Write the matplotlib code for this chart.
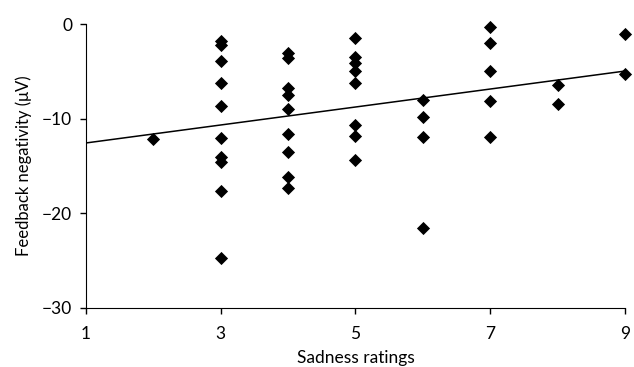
import numpy as np
import matplotlib.pyplot as plt

# Sadness rating and feedback negativity for each participant
sadness = [2,
           3, 3, 3, 3, 3, 3, 3, 3, 3, 3,
           4, 4, 4, 4, 4, 4, 4, 4, 4,
           5, 5, 5, 5, 5, 5, 5, 5,
           6, 6, 6, 6,
           7, 7, 7, 7, 7,
           8, 8,
           9, 9]
negativity = [-12.1,
              -1.8, -2.2, -3.9, -6.2, -8.7, -12.0, -14.0, -14.6, -17.6, -24.7,
              -3.1, -3.6, -6.8, -7.5, -9.0, -11.6, -13.5, -16.2, -17.3,
              -1.5, -3.45, -4.15, -5.0, -6.2, -10.7, -11.8, -14.4,
              -8.0, -9.8, -11.9, -21.5,
              -0.35, -2.0, -5.0, -8.1, -11.9,
              -6.4, -8.4,
              -1.1, -5.3]

x_ticks = [1, 3, 5, 7, 9]
y_ticks = [-30, -20, -10, 0]

plt.rcParams['font.family'] = ['Lato', 'DejaVu Sans']

fig = plt.figure(figsize=(6.34, 3.67), dpi=100)
ax = fig.add_axes([0.1356, 0.1608, 0.85, 0.7738])

x = np.array(sadness, dtype=float)
y = np.array(negativity)
ax.scatter(x, y, marker='D', s=45, color='black', zorder=3, linewidths=0,
           clip_on=False)

# Linear trend line across the whole x range
slope, intercept = np.polyfit(x, y, 1)
xs = np.array([1, 9])
ax.plot(xs, slope * xs + intercept, color='black', linewidth=1.1)

ax.set_xlim(1, 9)
ax.set_ylim(-30, 0)
ax.set_xticks(x_ticks)
ax.set_yticks(y_ticks)
ax.set_yticklabels(['\u221230', '\u221220', '\u221210', '0'])
ax.spines['top'].set_visible(False)
ax.spines['right'].set_visible(False)
ax.tick_params(direction='out', length=4, width=1, pad=6, labelsize=12.5)
ax.tick_params(axis='x', pad=9)
ax.set_xlabel('Sadness ratings', fontsize=12.5, labelpad=6)
ax.set_ylabel('Feedback negativity (\u03bcV)', fontsize=12, labelpad=7)

fig.savefig('out.png', dpi=100)
